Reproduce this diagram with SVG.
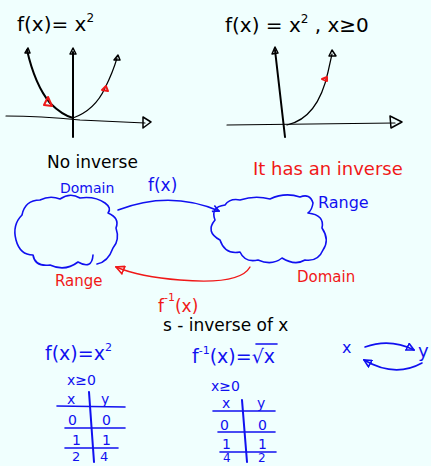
<svg xmlns="http://www.w3.org/2000/svg" width="431" height="466" viewBox="0 0 431 466">
<defs>
<style>
.bg{fill:#f0fffe}
.k{fill:#000;font-family:"DejaVu Sans",sans-serif}
.b{fill:#1010f0;font-family:"DejaVu Sans",sans-serif}
.r{fill:#f01818;font-family:"DejaVu Sans",sans-serif}
.ax{fill:none;stroke:#000;stroke-width:2;stroke-linecap:round}
.thin{fill:none;stroke:#000;stroke-width:1.2;stroke-linecap:round}
.bl{fill:none;stroke:#1010f0;stroke-width:1.6;stroke-linecap:round;stroke-linejoin:round}
.rl{fill:none;stroke:#f01818;stroke-width:1.4;stroke-linecap:round}
.bt{fill:none;stroke:#1010f0;stroke-width:2;stroke-linecap:round}
.tri{fill:none;stroke:#000;stroke-width:1.5;stroke-linejoin:round}
.rtri{fill:none;stroke:#f01818;stroke-width:2;stroke-linejoin:round}
</style>
<marker id="ab" viewBox="0 0 10 10" refX="9" refY="5" markerWidth="8" markerHeight="8" orient="auto" markerUnits="userSpaceOnUse">
<path d="M1 1 L9 5 L1 9" fill="none" stroke="#1010f0" stroke-width="2"/>
</marker>
<marker id="ar" viewBox="0 0 10 10" refX="9" refY="5" markerWidth="10" markerHeight="10" orient="auto" markerUnits="userSpaceOnUse">
<path d="M1 1 L9 5 L1 9 Z" fill="none" stroke="#f01818" stroke-width="1.6"/>
</marker>
<marker id="abt" viewBox="0 0 10 10" refX="9" refY="5" markerWidth="9" markerHeight="9" orient="auto" markerUnits="userSpaceOnUse">
<path d="M1 1 L9 5 L1 9 Z" fill="none" stroke="#1010f0" stroke-width="1.8"/>
</marker>
</defs>
<rect class="bg" x="0" y="0" width="431" height="466"/>

<g id="graph-left">
<text class="k" x="17" y="31" font-size="20">f(x)= x<tspan font-size="12" dy="-9">2</tspan></text>
<path class="ax" d="M73 52 L73 137"/>
<path class="tri" d="M70 54 L73 48 L76 54 Z"/>
<path class="thin" d="M6 116 Q40 116 80 120 L145 123"/>
<path class="tri" d="M143 117 L151 122 L143 128 Z"/>
<path class="ax" d="M27 50 Q35 85 50 103 Q62 115 73 118"/>
<path class="tri" d="M25 53 L28 48 L30 53 Z"/>
<path class="thin" d="M73 118 Q95 110 105 88 Q113 72 117 58"/>
<path class="tri" d="M114 60 L118 55 L120 60 Z"/>
<path class="rtri" d="M44 105 L48 97 L52 106 Z"/>
<path class="rtri" d="M102 90 L106 86 L108 91 Z"/>
</g>

<g id="graph-right">
<text class="k" x="225" y="32" font-size="20">f(x) = x<tspan font-size="12" dy="-9">2</tspan><tspan dy="9">  , x≥0</tspan></text>
<path class="ax" d="M275 50 L285 137"/>
<path class="tri" d="M272 54 L275 47 L278 53 Z"/>
<path class="thin" d="M227 125 L395 123"/>
<path class="tri" d="M390 116 L402 122 L391 128 Z"/>
<path class="thin" d="M287 125 Q318 118 328 72 L332 54"/>
<path class="tri" d="M329 56 L332 50 L336 56 Z"/>
<path class="rtri" d="M322 79 L327 77 L327 81 Z"/>
</g>

<g id="label-no-inverse"><text class="k" x="47" y="168" font-size="17">No inverse</text></g>
<g id="label-has-inverse"><text class="r" x="253" y="175" font-size="18">It has an inverse</text></g>

<g id="cloud-left">
<path class="bl" d="M60 199 Q70 192 80 198 Q95 196 105 203 Q112 208 108 213 Q120 218 116 228 Q120 240 113 248 Q108 262 97 264 M93 255 Q92 270 78 262 Q65 272 50 265 Q35 267 33 255 Q20 255 16 240 Q12 225 22 215 Q25 200 40 200 Q50 195 60 199"/>
<text class="b" x="60" y="193" font-size="14">Domain</text>
<text class="r" x="55" y="286" font-size="15">Range</text>
</g>

<g id="cloud-right">
<path class="bl" d="M240 200 Q255 195 270 199 Q285 192 300 197 Q310 193 313 203 Q312 210 308 213 Q325 215 322 228 Q330 240 323 250 Q318 262 305 260 Q295 266 282 258 Q272 266 258 260 Q245 263 240 252 Q225 255 220 240 Q205 232 215 220 Q210 207 225 205 Q230 198 240 200"/>
<text class="b" x="318" y="208" font-size="16">Range</text>
<text class="r" x="297" y="282" font-size="15">Domain</text>
</g>

<g id="connectors">
<path class="bl" d="M118 210 Q170 190 219 211" marker-end="url(#ab)"/>
<path class="rl" d="M250 267 Q240 285 180 280 Q140 277 116 267" marker-end="url(#ar)"/>
<path class="bl" d="M365 347 Q390 338 414 350" marker-end="url(#abt)"/>
<path class="bl" d="M422 363 Q395 378 364 360" marker-end="url(#abt)"/>
</g>

<g id="label-fx"><text class="b" x="148" y="191" font-size="17">f(x)</text></g>
<g id="label-finv"><text class="r" x="158" y="312" font-size="17">f<tspan font-size="11" dy="-11">-1</tspan><tspan dy="11">(x)</tspan></text></g>
<g id="label-s"><text class="k" x="163" y="331" font-size="17">s - inverse of x</text></g>

<g id="table-left">
<text class="b" x="45" y="360" font-size="19">f(x)=x<tspan font-size="11" dy="-9">2</tspan></text>
<text class="b" x="67" y="385" font-size="14">x≥0</text>
<path class="bt" d="M89 392 L94 462"/>
<path class="bl" d="M57 406 L125 407"/>
<path class="bl" d="M65 428 L125 428"/>
<path class="bl" d="M65 448 L118 448"/>
<text class="b" x="67" y="404" font-size="14">x</text>
<text class="b" x="101" y="404" font-size="14">y</text>
<text class="b" x="68" y="425" font-size="14">0</text>
<text class="b" x="102" y="425" font-size="14">0</text>
<text class="b" x="72" y="445" font-size="14">1</text>
<text class="b" x="102" y="445" font-size="14">1</text>
<text class="b" x="72" y="461" font-size="13">2</text>
<text class="b" x="100" y="461" font-size="13">4</text>
</g>

<g id="table-right">
<text class="b" x="192" y="363" font-size="19">f<tspan font-size="11" dy="-9">-1</tspan><tspan dy="9">(x)=√x</tspan></text>
<path class="bl" d="M256 344 L277 344"/>
<text class="b" x="211" y="391" font-size="14">x≥0</text>
<path class="bt" d="M242 400 L247 462"/>
<path class="bl" d="M213 411 L275 411"/>
<path class="bl" d="M218 432 L275 432"/>
<path class="bl" d="M220 452 L276 452"/>
<text class="b" x="222" y="408" font-size="14">x</text>
<text class="b" x="257" y="408" font-size="14">y</text>
<text class="b" x="220" y="430" font-size="14">0</text>
<text class="b" x="258" y="430" font-size="14">0</text>
<text class="b" x="222" y="449" font-size="14">1</text>
<text class="b" x="258" y="449" font-size="14">1</text>
<text class="b" x="223" y="462" font-size="12">4</text>
<text class="b" x="258" y="462" font-size="12">2</text>
</g>

<g id="xy">
<text class="b" x="342" y="353" font-size="16">x</text>
<text class="b" x="418" y="357" font-size="18">y</text>
</g>
</svg>
